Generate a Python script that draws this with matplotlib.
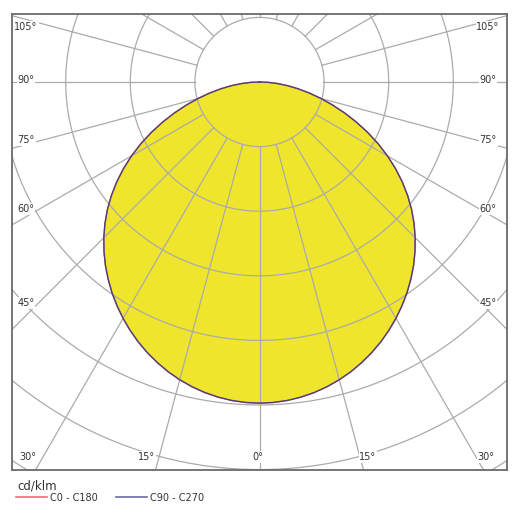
import numpy as np
import matplotlib.pyplot as plt

# Rozkład światłości (cd/klm) co 2.5 stopnia od osi pionowej
gamma = [0, 2.5, 5, 7.5, 10, 12.5, 15, 17.5, 20, 22.5, 25, 27.5, 30, 32.5, 35, 37.5,
         40, 42.5, 45, 47.5, 50, 52.5, 55, 57.5, 60, 62.5, 65, 67.5, 70, 72.5, 75,
         77.5, 80, 82.5, 85, 87.5, 90]
c0_c180 = [348, 347.6, 346.4, 344.4, 341.7, 338.2, 334.0, 329.2, 323.6, 317.5,
           310.8, 303.5, 295.7, 287.4, 278.7, 269.4, 259.7, 249.4, 238.6, 227.2,
           215.2, 202.4, 188.9, 174.8, 160.1, 144.9, 129.4, 113.7, 98.2, 83.2,
           68.9, 55.3, 42.7, 31.0, 20.2, 9.9, 0]
c90_c270 = [348, 347.6, 346.4, 344.4, 341.7, 338.2, 334.0, 329.2, 323.6, 317.5,
            310.8, 303.5, 295.7, 287.4, 278.7, 269.4, 259.7, 249.4, 238.6, 227.2,
            215.2, 202.4, 188.9, 174.8, 160.1, 144.9, 129.4, 113.7, 98.2, 83.2,
            68.9, 55.3, 42.7, 31.0, 20.2, 9.9, 0]

ring_step = 70
rings = [1, 2, 3, 4, 5, 6, 7]
spoke_angles = list(range(0, 360, 15))

left_labels = ["105°", "90°", "75°", "60°", "45°"]
bottom_labels = ["30°", "15°", "0°", "15°", "30°"]
unit = "cd/klm"
legend_names = ["C0 - C180", "C90 - C270"]

yellow = "#efe52c"
grid_col = "#ababab"
red = "#f06a78"
blue = "#6b6aa6"
outline = "#4a4277"


def curve(vals):
    th = np.radians(gamma)
    r = np.array(vals, dtype=float)
    xr = r * np.sin(th)
    yr = -r * np.cos(th)
    x = np.concatenate([-xr[::-1], xr])
    y = np.concatenate([yr[::-1], yr])
    return x, y


fig = plt.figure(figsize=(5.25, 5.22), dpi=100)
ax = fig.add_axes([12 / 525, 52 / 522, 495 / 525, 456 / 522])
scale = 64.6 / ring_step  # piksele na jednostkę
ax.set_xlim(-247.5 / scale, 247.5 / scale)
ax.set_ylim(-388 / scale, 68 / scale)
ax.set_xticks([])
ax.set_yticks([])
for s in ax.spines.values():
    s.set_color("#6a6a6a")
    s.set_linewidth(1.3)

# wypełnienie
x, y = curve(c90_c270)
ax.fill(x, y, color=yellow, zorder=1, lw=0)

# siatka: okręgi
t = np.linspace(0, 2 * np.pi, 400)
for k in rings:
    r = k * ring_step
    ax.plot(r * np.cos(t), r * np.sin(t), color=grid_col, lw=0.9, zorder=2)

# siatka: promienie (od pierwszego okręgu na zewnątrz)
for a in spoke_angles:
    ar = np.radians(a)
    dx, dy = np.sin(ar), -np.cos(ar)
    ax.plot([ring_step * dx, 1000 * dx], [ring_step * dy, 1000 * dy],
            color=grid_col, lw=0.9, zorder=2)

# krzywe
xa, ya = curve(c0_c180)
ax.plot(xa, ya, color=red, lw=1.0, zorder=3)
ax.plot(x, y, color=outline, lw=1.0, zorder=4)

# etykiety kątów
box = dict(facecolor="white", edgecolor="none", pad=0.6)
left_y = [27, 80, 140, 209, 303]
for lab, py in zip(left_labels, left_y):
    ax.text((26 - 12) / 495, (470 - py) / 456, lab, transform=ax.transAxes,
            ha="center", va="center", fontsize=7, color="#333333", bbox=box, zorder=5)
    ax.text((488 - 12) / 495, (470 - py) / 456, lab, transform=ax.transAxes,
            ha="center", va="center", fontsize=7, color="#333333", bbox=box, zorder=5)
bottom_x = [28, 147, 258, 368, 486]
for lab, px in zip(bottom_labels, bottom_x):
    ax.text((px - 12) / 495, (470 - 457) / 456, lab, transform=ax.transAxes,
            ha="center", va="center", fontsize=7, color="#333333", bbox=box, zorder=5)

# legenda
fig.text(17 / 525, (522 - 486) / 522, unit, fontsize=8.5, color="#333333",
         ha="left", va="center")
fig.add_artist(plt.Line2D([16 / 525, 47 / 525], [(522 - 497) / 522] * 2,
                          color=red, lw=1.2))
fig.text(50 / 525, (522 - 498) / 522, legend_names[0], fontsize=7, color="#333333",
         ha="left", va="center")
fig.add_artist(plt.Line2D([116 / 525, 147 / 525], [(522 - 497) / 522] * 2,
                          color=blue, lw=1.2))
fig.text(150 / 525, (522 - 498) / 522, legend_names[1], fontsize=7, color="#333333",
         ha="left", va="center")

fig.savefig("out.png", dpi=100)
